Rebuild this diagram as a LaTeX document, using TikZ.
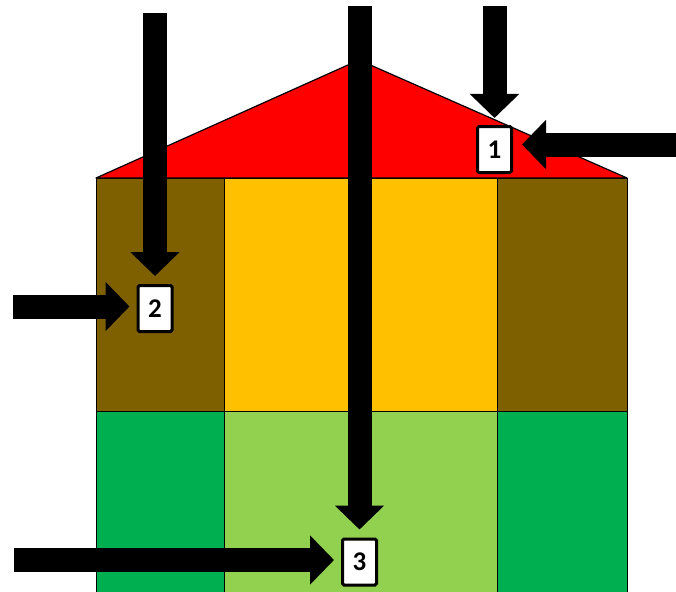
\documentclass[tikz,border=0pt]{standalone}
\usepackage{fontspec}
\setmainfont{Carlito}
\usetikzlibrary{arrows.meta}
\definecolor{roofred}{HTML}{FF0000}
\definecolor{brownc}{HTML}{7F6000}
\definecolor{yellowc}{HTML}{FFC000}
\definecolor{darkgreen}{HTML}{00B050}
\definecolor{lightgreen}{HTML}{92D050}
\tikzset{
  cell/.style={draw=black, line width=0.8pt},
  numbox/.style={draw=black, fill=white, line width=3pt, rounded corners=1.5pt,
    minimum width=34pt, minimum height=46pt, inner sep=0pt,
    font=\fontsize{27}{30}\selectfont\bfseries},
  blockarrow/.style={line width=24pt,
    -{Triangle[length=24pt 0, width=48pt 0]}},
}
\begin{document}
\begin{tikzpicture}[x=1pt,y=-1pt]
\useasboundingbox (0,0) rectangle (676,591);
% roof
\draw[fill=roofred, line width=1.2pt, line join=round] (96,178) -- (359,60) -- (627,178) -- cycle;
% walls
\draw[cell, fill=brownc] (96,178) rectangle (224,411);
\draw[cell, fill=yellowc] (224,178) rectangle (497,411);
\draw[cell, fill=brownc] (497,178) rectangle (627,411);
\draw[cell, fill=darkgreen] (96,411) rectangle (224,595);
\draw[cell, fill=lightgreen] (224,411) rectangle (497,595);
\draw[cell, fill=darkgreen] (497,411) rectangle (627,595);
% number boxes
\node[numbox] (b1) at (494.5,149.5) {1};
\node[numbox] (b2) at (155,308.5) {2};
\node[numbox] (b3) at (359.5,562) {3};
% free ends
\coordinate (t1) at (b1 |- 0,6);
\coordinate (r1) at (676,144.5);
\coordinate (t2) at (b2 |- 0,13);
\coordinate (l2) at (13,306.5);
\coordinate (t3) at (b3 |- 0,6);
\coordinate (l3) at (14,560);
% arrows
\draw[blockarrow, shorten >=7pt] (t1) -- (b1.north);
\draw[blockarrow, shorten >=9pt] (r1) -- (b1.east |- r1);
\draw[blockarrow, shorten >=8pt] (t2) -- (b2.north);
\draw[blockarrow, shorten >=7pt] (l2) -- (b2.west |- l2);
\draw[blockarrow, shorten >=8pt] (t3) -- (b3.north);
\draw[blockarrow, shorten >=7pt] (l3) -- (b3.west |- l3);
\end{tikzpicture}
\end{document}
